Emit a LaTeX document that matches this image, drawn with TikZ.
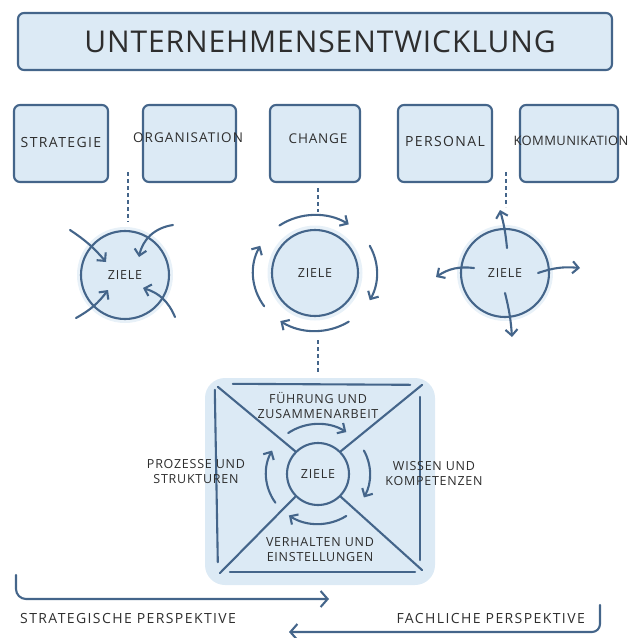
\documentclass[tikz,border=0pt]{standalone}
\usepackage{fontspec}
\setmainfont{Open Sans}
\usetikzlibrary{arrows.meta}
\definecolor{ink}{HTML}{44658A}
\definecolor{pale}{HTML}{DCEAF5}
\definecolor{halo}{HTML}{E8F1F8}
\definecolor{pen}{HTML}{2E2E2E}
\newcommand{\hand}[2]{\fontsize{#1}{16}\selectfont\addfontfeatures{LetterSpace=#2}}
\tikzset{
  field/.style={draw=ink, fill=pale, line width=2.1pt, rounded corners=6pt, minimum height=77pt},
  goal/.style={circle, draw=ink, fill=pale, line width=2.1pt, text=pen, font=\hand{12.5}{6}, inner sep=0pt},
  aura/.style={circle, fill=halo, inner sep=0pt},
  lbl/.style={text=pen, font=\hand{13.5}{8}, inner sep=0pt},
  duo/.style={lbl, align=center, font=\fontsize{12.5}{15}\selectfont\addfontfeatures{LetterSpace=6}},
  guide/.style={ink, line width=1.2pt, dash pattern=on 4pt off 3pt},
  arr/.style={ink, line width=2.1pt, line cap=round, -{Straight Barb[length=6pt,width=12pt]}},
  edge/.style={ink, line width=2.1pt, line cap=round}
}
\begin{document}
\begin{tikzpicture}[x=1pt,y=-1pt]
\useasboundingbox (0,0) rectangle (630,638);
% title
\node[field, minimum width=594pt, minimum height=57pt] (title) at (315,41.5) {};
\node[lbl, font=\fontsize{30}{32}\selectfont\addfontfeatures{LetterSpace=3}] (titletext) at (320,42) {UNTERNEHMENSENTWICKLUNG};
% fields
\node[field, minimum width=94pt] (strategie) at (61,143.5) {};
\node[field, minimum width=93pt] (organisation) at (189.5,143.5) {};
\node[field, minimum width=90pt] (change) at (315,143.5) {};
\node[field, minimum width=94pt] (personal) at (445,143.5) {};
\node[field, minimum width=98pt] (kommunikation) at (569,143.5) {};
\node[lbl, font=\hand{14}{10}] (tstrategie) at (61,142) {STRATEGIE};
\node[lbl] (torganisation) at (188,138) {ORGANISATION};
\node[lbl, font=\hand{13.5}{6}] (tchange) at (318,139) {CHANGE};
\node[lbl, font=\hand{14}{10}] (tpersonal) at (445,141) {PERSONAL};
\node[lbl, font=\hand{13}{3}] (tkommunikation) at (571,141) {KOMMUNIKATION};
% dashed guides
\coordinate (g1a) at (128,172); \coordinate (g1b) at (128,222);
\coordinate (g2a) at (318,188); \coordinate (g2b) at (318,212);
\coordinate (g3a) at (318,340); \coordinate (g3b) at (318,372);
\coordinate (g4a) at (506,172); \coordinate (g4b) at (506,207);
\draw[guide] (g1a) -- (g1b);
\draw[guide] (g2a) -- (g2b);
\draw[guide] (g3a) -- (g3b);
\draw[guide] (g4a) -- (g4b);
% three goals
\node[aura, minimum size=96pt] (aural) at (125,275) {};
\node[goal, minimum size=88pt] (zielel) at (125,275) {ZIELE};
\node[aura, minimum size=95pt] (auram) at (315,273) {};
\node[goal, minimum size=86pt] (zielem) at (315,273) {ZIELE};
\node[aura, minimum size=96pt] (aurar) at (505,273) {};
\node[goal, minimum size=88pt] (zieler) at (505,273) {ZIELE};
% inwards
\draw[arr] ([shift={(-55pt,45pt)}]zielel.center) to[bend left=8] ([shift={(-19pt,13pt)}]zielel.center);
\draw[arr] ([shift={(48pt,50pt)}]zielel.center) to[bend right=35] ([shift={(14pt,18pt)}]zielel.center);
\draw[arr] ([shift={(-49pt,-43pt)}]zielel.center) to[bend right=12] ([shift={(-17pt,-15pt)}]zielel.center);
\draw[arr] ([shift={(50pt,-42pt)}]zielel.center) to[bend right=25] ([shift={(18pt,-13pt)}]zielel.center);
% around
\foreach \a/\b in {125/57, 28/-28, -57/-124, 215/152}
  \draw[arr] ([shift={(\a:62pt and 58pt)}]zielem.center) arc[start angle=\a, end angle=\b, x radius=62pt, y radius=58pt];
% outwards
\draw[arr] ([shift={(2pt,25pt)}]zieler.center) to[bend right=5] ([shift={(-5pt,63pt)}]zieler.center);
\draw[arr] ([shift={(-31pt,5pt)}]zieler.center) to[bend right=20] ([shift={(-69pt,-4pt)}]zieler.center);
\draw[arr] ([shift={(33pt,0pt)}]zieler.center) to[bend left=12] ([shift={(75pt,5pt)}]zieler.center);
\draw[arr] ([shift={(0pt,-20pt)}]zieler.center) to[bend left=5] ([shift={(7pt,-64pt)}]zieler.center);
% big frame
\node[fill=pale, rounded corners=20pt, minimum width=230pt, minimum height=207pt, inner sep=0pt] (frame) at (320,481.5) {};
\node[goal, minimum size=62pt] (zieleb) at (318,474) {ZIELE};
\draw[edge] ([shift={(28pt,-6pt)}]frame.north west) -- ([shift={(-25pt,-7pt)}]frame.north east);
\draw[edge] ([shift={(10pt,-12pt)}]frame.north west) -- ([shift={(13pt,23pt)}]frame.south west);
\draw[edge] ([shift={(-15pt,-19pt)}]frame.north east) -- ([shift={(-15pt,25pt)}]frame.south east);
\draw[edge] ([shift={(25pt,13pt)}]frame.south west) -- ([shift={(-20pt,13pt)}]frame.south east);
\draw[edge] ([shift={(13pt,-9pt)}]frame.north west) -- (zieleb.135);
\draw[edge] ([shift={(-13pt,-7pt)}]frame.north east) -- (zieleb.45);
\draw[edge] ([shift={(15pt,12pt)}]frame.south west) -- (zieleb.225);
\draw[edge] ([shift={(-13pt,15pt)}]frame.south east) -- (zieleb.-45);
\foreach \a/\b in {125/57, 28/-28, -57/-124, 215/152}
  \draw[arr] ([shift={(\a:52pt and 50pt)}]zieleb.center) arc[start angle=\a, end angle=\b, x radius=52pt, y radius=50pt];
\node[duo] (fuehrung) at (318,405) {FÜHRUNG UND\\ZUSAMMENARBEIT};
\node[duo] (prozesse) at (196,472) {PROZESSE UND\\STRUKTUREN};
\node[duo] (wissen) at (434,474) {WISSEN UND\\KOMPETENZEN};
\node[duo] (verhalten) at (320,550) {VERHALTEN UND\\EINSTELLUNGEN};
% perspectives
\coordinate (sa) at (16,575); \coordinate (sb) at (329,599);
\draw[arr, -{Straight Barb[length=7pt,width=16pt]}, rounded corners=10pt] (sa) |- (sb);
\node[lbl, anchor=west, font=\hand{14}{10}] (strategisch) at (20,618) {STRATEGISCHE PERSPEKTIVE};
\coordinate (fa) at (600,605); \coordinate (fb) at (289,632);
\draw[arr, -{Straight Barb[length=7pt,width=16pt]}, rounded corners=8pt] (fa) |- (fb);
\node[lbl, anchor=east, font=\hand{14}{10}] (fachlich) at (585,618) {FACHLICHE PERSPEKTIVE};
\end{tikzpicture}
\end{document}
